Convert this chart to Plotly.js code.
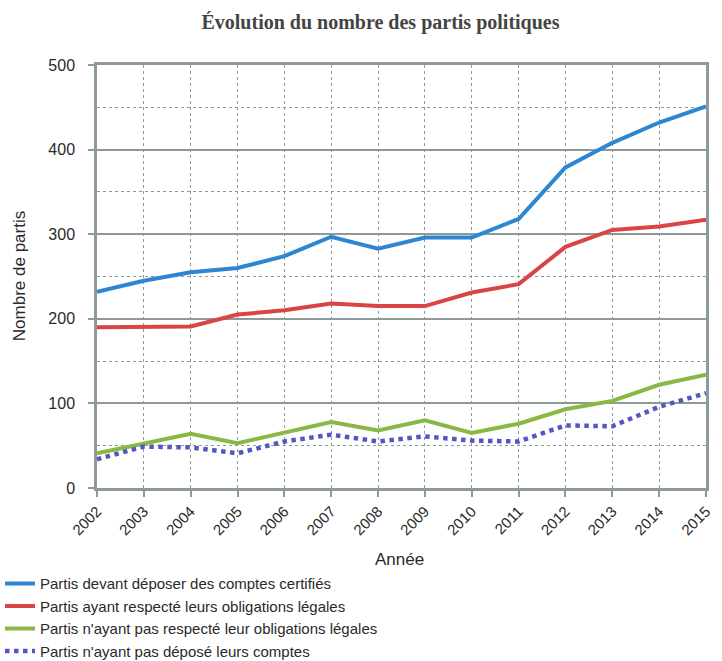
<!DOCTYPE html>
<html><head><meta charset="utf-8">
<script src="https://cdn.plot.ly/plotly-3.0.1.min.js"></script>
<style>html,body{margin:0;padding:0;background:#fff}#chart{width:722px;height:661px}</style>
</head><body><div id="chart"></div>
<script>
const years = [2002,2003,2004,2005,2006,2007,2008,2009,2010,2011,2012,2013,2014,2015];
const seriesNames = [
  "Partis devant déposer des comptes certifiés",
  "Partis ayant respecté leurs obligations légales",
  "Partis n'ayant pas respecté leur obligations légales",
  "Partis n'ayant pas déposé leurs comptes"
];
const certifies = [232,245,255,260,274,297,283,296,296,318,379,408,432,451];
const respectes = [190,191,191,205,210,218,215,215,231,241,285,305,309,317];
const nonRespectes = [41,53,64,53,65,78,68,80,65,76,93,103,122,134];
const nonDeposes = [34,49,48,41,55,63,55,61,56,55,74,73,96,112];
const colors = ["#2f86d0","#d94545","#8ab844","#5557c0"];
const yTicks = [0,100,200,300,400,500];
const xTitle = 'Année';
const yTitle = 'Nombre de partis';

const vals = [certifies, respectes, nonRespectes, nonDeposes];
const traces = vals.map((v,i)=>({
  x: years, y: v, name: seriesNames[i], type: 'scatter', mode: 'lines',
  line: {color: colors[i], width: i===3 ? 4.5 : 4, dash: i===3 ? 'dot' : 'solid'}
}));

const gridCol = '#8e9a9a';
const layout = {
  width: 722, height: 661,
  margin: {l: 97, r: 16, t: 65, b: 173, autoexpand: false},
  paper_bgcolor: '#fff', plot_bgcolor: '#fff',
  font: {family: 'Liberation Sans, Arial, sans-serif', color: '#2a2a2a'},
  title: {text: '<b>Évolution du nombre des partis politiques</b>', x: 0.527, xref: 'container', xanchor: 'center',
    y: 0.966, yref: 'container', yanchor: 'middle',
    font: {family: 'Liberation Serif, Times New Roman, serif', size: 20, color: '#444'}},
  showlegend: true,
  legend: {orientation: 'v', x: 0, xref: 'container', xanchor: 'left', y: 0.142, yref: 'container', yanchor: 'top',
    font: {size: 15, color: '#2a2a2a'}, itemwidth: 30, tracegroupgap: 0, bgcolor: 'rgba(0,0,0,0)'},
  xaxis: {
    range: [2002, 2015], tickvals: years, ticktext: years.map(String), tickangle: -45,
    tickfont: {size: 15}, ticks: 'outside', ticklen: 6, tickcolor: gridCol, tickwidth: 1.5,
    showgrid: true, gridcolor: gridCol, griddash: 'dot', gridwidth: 1.2,
    showline: true, linecolor: gridCol, linewidth: 2.5, mirror: true, zeroline: false,
    automargin: false
  },
  yaxis: {
    range: [0, 500], tickvals: yTicks, tickfont: {size: 16},
    ticks: 'outside', ticklen: 6, tickcolor: gridCol, tickwidth: 1.5, ticklabelstandoff: 10,
    showgrid: true, gridcolor: gridCol, gridwidth: 1.5,
    minor: {dtick: 50, tick0: 0, showgrid: true, gridcolor: gridCol, griddash: 'dot', gridwidth: 1.2, ticks: ''},
    showline: true, linecolor: gridCol, linewidth: 2.5, mirror: true, zeroline: false,
    automargin: false
  },
  annotations: [
    {text: xTitle, xref: 'paper', yref: 'paper', x: 0.4975, y: -0.17, xanchor: 'center', yanchor: 'middle',
     showarrow: false, font: {size: 17, color: '#2a2a2a'}},
    {text: yTitle, xref: 'paper', yref: 'paper', x: -0.127, y: 0.5, xanchor: 'center', yanchor: 'middle',
     textangle: -90, showarrow: false, font: {size: 17, color: '#2a2a2a'}}
  ]
};
Plotly.newPlot('chart', traces, layout, {displayModeBar: false, responsive: false});
</script></body></html>
